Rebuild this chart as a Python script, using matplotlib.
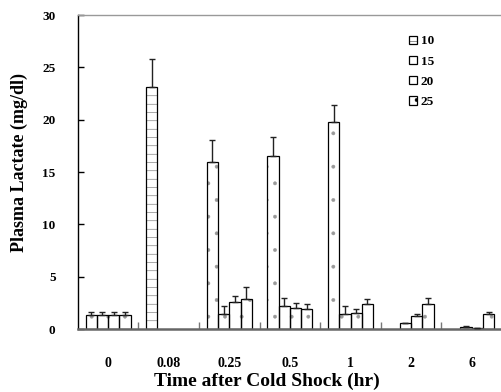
import numpy as np
import matplotlib.pyplot as plt
from matplotlib.patches import Patch

plt.rcParams['font.family'] = ['Liberation Serif', 'DejaVu Serif']
plt.rcParams['font.weight'] = 'bold'
plt.rcParams['hatch.linewidth'] = 0.3

times = ['0', '0.08', '0.25', '0.5', '1', '2', '6']
series_names = ['10', '15', '20', '25']

# mean plasma lactate (mg/dl), one list per series, nan = no bar
lact_10 = [1.35, 23.1, 16.0, 16.5, 19.8, np.nan, np.nan]
lact_15 = [1.35, np.nan, 1.4, 2.2, 1.4, 0.55, 0.15]
lact_20 = [1.35, np.nan, 2.55, 2.05, 1.55, 1.2, 0.05]
lact_25 = [1.35, np.nan, 2.9, 1.95, 2.35, 2.35, 1.4]

# upper error (SE)
err_10 = [0.3, 2.7, 2.1, 1.8, 1.6, np.nan, np.nan]
err_15 = [0.3, np.nan, 0.8, 0.8, 0.8, 0.05, 0.1]
err_20 = [0.3, np.nan, 0.65, 0.4, 0.35, 0.23, 0.0]
err_25 = [0.3, np.nan, 1.1, 0.4, 0.5, 0.65, 0.2]

means = [lact_10, lact_15, lact_20, lact_25]
errs = [err_10, err_15, err_20, err_25]
legend_hatch = ['-', '', '', '.']

fig = plt.figure(figsize=(5.02, 3.92), dpi=100)
ax = fig.add_axes([0.155, 0.1607, 0.845, 0.801])

x = np.arange(len(times))
w = 0.186
fills = []
for j, (m, e) in enumerate(zip(means, errs)):
    m = np.array(m, dtype=float)
    e = np.array(e, dtype=float)
    pos = x + (j - 1.5) * w
    # faint dotted fill, then the black outline on top
    f = ax.bar(pos, m, w, color='white', edgecolor='#999999', linewidth=0,
               hatch='.', zorder=2)
    fills.append(f)
    ax.bar(pos, m, w, fill=False, edgecolor='black', linewidth=0.9, zorder=2.5)
    ax.errorbar(pos, m, yerr=[np.zeros_like(e), e], fmt='none',
                ecolor='#222222', elinewidth=1.0, capsize=2.3, capthick=1.0,
                zorder=3)

# the 0.08 h bar is drawn with dashed rows in the original
fills[0][1].set_hatch('--')
fills[0][1].set_edgecolor('#333333')

ax.set_xlim(-0.5, len(times) - 0.5)
ax.set_ylim(0, 30)
ax.set_yticks(np.arange(0, 31, 5))
ax.set_xticks(x)
ax.set_xticklabels(times)
ax.set_xticks(np.arange(0.5, len(times) - 0.5, 1), minor=True)

ax.tick_params(axis='y', direction='in', length=4, width=1, pad=16,
               labelsize=9.5)
ax.tick_params(axis='x', which='major', length=0, pad=20, labelsize=10)
ax.tick_params(axis='x', which='minor', direction='in', length=5, width=1,
               color='#777777')

ax.spines['right'].set_visible(False)
ax.spines['top'].set_color('#999999')
ax.spines['top'].set_linewidth(1.0)
ax.spines['left'].set_linewidth(1.0)
ax.spines['bottom'].set_color('#666666')
ax.spines['bottom'].set_linewidth(1.8)

ax.set_ylabel('Plasma Lactate (mg/dl)', fontsize=13, fontweight='bold')
ax.yaxis.set_label_coords(-0.118, 0.53)
ax.set_xlabel('Time after Cold Shock (hr)', fontsize=14, fontweight='bold')
ax.xaxis.set_label_coords(0.446, -0.14)

handles = [Patch(facecolor='white', edgecolor='black', hatch=h, linewidth=0.9)
           for h in legend_hatch]
ax.legend(handles, series_names, loc='upper left',
          bbox_to_anchor=(0.78, 0.935), frameon=False, fontsize=9.5,
          handlelength=0.6, handleheight=0.6, handletextpad=0.3,
          labelspacing=0.62, borderpad=0, borderaxespad=0)

fig.savefig('out.png', dpi=100)
